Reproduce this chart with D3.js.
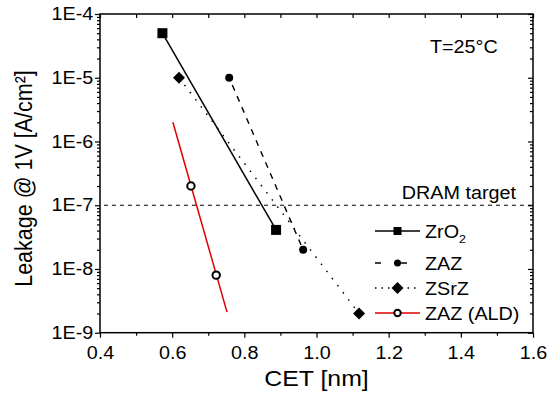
<!DOCTYPE html>
<html>
<head>
<meta charset="utf-8">
<script src="https://cdn.jsdelivr.net/npm/d3@7"></script>
<style>
  body { margin: 0; background: #fff; }
  text { font-family: "Liberation Sans", Arial, sans-serif; fill: #000; }
</style>
</head>
<body>
<div id="chart"></div>
<script>
// values
const zro2CET = [0.573, 0.888];
const zro2Leak = [5e-5, 4.1e-8];
const zazCET = [0.758, 0.963];
const zazLeak = [1e-5, 2e-8];
const zsrzCET = [0.619, 1.118];
const zsrzLeak = [1e-5, 2e-9];
const aldCET = [0.652, 0.722];
const aldLeak = [2e-7, 8e-9];
const aldFitCET = [0.602, 0.752];
const aldFitLeak = [2e-6, 2.1e-9];
const dramTarget = 1e-7;
const legendNames = ["ZrO", "ZAZ", "ZSrZ", "ZAZ (ALD)"];
const xTicks = [0.4, 0.6, 0.8, 1.0, 1.2, 1.4, 1.6];
const xMinorTicks = [0.5, 0.7, 0.9, 1.1, 1.3, 1.5];
const yTicks = [1e-9, 1e-8, 1e-7, 1e-6, 1e-5, 1e-4];
const yTickLabels = ["1E-9", "1E-8", "1E-7", "1E-6", "1E-5", "1E-4"];

function init() {
    const w = 548, h = 407;
    const left = 100, right = 533, top = 14, bottom = 332.7;
    const sx = 1.13; // glyphs in the picture are a bit wide

    const svg = d3.select("#chart").append("svg")
        .attr("width", w).attr("height", h);

    const x = d3.scaleLinear().domain([0.4, 1.6]).range([left, right]);
    const y = d3.scaleLog().domain([1e-9, 1e-4]).range([bottom, top]);

    // minor ticks for log axis: 2..9 per decade
    let yMinor = [];
    for (let e = -9; e < -4; e++) {
        for (let m = 2; m <= 9; m++) yMinor.push(m * Math.pow(10, e));
    }

    function stretchTicks(g) {
        g.selectAll("text").attr("transform", "scale(" + sx + ",1)");
    }

    // bottom axis
    svg.append("g")
        .attr("transform", "translate(0," + bottom + ")")
        .call(d3.axisBottom(x).tickValues(xTicks).tickSize(5).tickPadding(9)
            .tickFormat(d3.format(".1f")))
        .call(stretchTicks);
    svg.append("g")
        .attr("transform", "translate(0," + bottom + ")")
        .call(d3.axisBottom(x).tickValues(xMinorTicks).tickSize(3).tickFormat(""));
    // top axis, ticks inside
    svg.append("g")
        .attr("transform", "translate(0," + top + ")")
        .call(d3.axisBottom(x).tickValues(xTicks.concat(xMinorTicks)).tickSize(4).tickFormat(""));

    // left axis
    svg.append("g")
        .attr("transform", "translate(" + left + ",0)")
        .call(d3.axisLeft(y).tickValues(yTicks).tickSize(5).tickPadding(1)
            .tickFormat((d, i) => yTickLabels[i]))
        .call(stretchTicks);
    svg.append("g")
        .attr("transform", "translate(" + left + ",0)")
        .call(d3.axisLeft(y).tickValues(yMinor).tickSize(3).tickFormat(""));
    // right axis, ticks inside
    svg.append("g")
        .attr("transform", "translate(" + right + ",0)")
        .call(d3.axisLeft(y).tickValues(yTicks).tickSize(-5).tickFormat(""))
        .call(g => g.selectAll("line").attr("x2", -5));
    svg.append("g")
        .attr("transform", "translate(" + right + ",0)")
        .call(d3.axisLeft(y).tickValues(yMinor).tickSize(-3).tickFormat(""))
        .call(g => g.selectAll("line").attr("x2", -3));

    svg.selectAll(".domain").remove();
    svg.selectAll(".tick line").attr("stroke", "#000").attr("stroke-width", 1.2);
    svg.selectAll(".tick text").style("font-size", "17.5px").attr("fill", "#000");

    // frame
    svg.append("rect")
        .attr("x", left).attr("y", top)
        .attr("width", right - left).attr("height", bottom - top)
        .attr("fill", "none").attr("stroke", "#000").attr("stroke-width", 1.5);

    // DRAM target
    svg.append("line")
        .attr("x1", left).attr("x2", right)
        .attr("y1", y(dramTarget)).attr("y2", y(dramTarget))
        .attr("stroke", "#000").attr("stroke-width", 1)
        .attr("stroke-dasharray", "4,4").attr("stroke-dashoffset", 4);
    svg.append("text")
        .attr("transform", "translate(516," + (y(dramTarget) - 6) + ") scale(" + sx + ",1)")
        .attr("text-anchor", "end")
        .style("font-size", "17.5px")
        .text("DRAM target");

    svg.append("text")
        .attr("transform", "translate(430,53) scale(" + sx + ",1)")
        .style("font-size", "17.5px")
        .text("T=25°C");

    const line = d3.line().x(d => x(d[0])).y(d => y(d[1]));
    const zip = (a, b) => a.map((v, i) => [v, b[i]]);

    // lines
    svg.append("path").datum(zip(zro2CET, zro2Leak))
        .attr("d", line).attr("fill", "none")
        .attr("stroke", "#000").attr("stroke-width", 1.5);
    svg.append("path").datum(zip(zazCET, zazLeak))
        .attr("d", line).attr("fill", "none")
        .attr("stroke", "#000").attr("stroke-width", 1.4)
        .attr("stroke-dasharray", "6,6").attr("stroke-dashoffset", 4);
    svg.append("path").datum(zip(zsrzCET, zsrzLeak))
        .attr("d", line).attr("fill", "none")
        .attr("stroke", "#000").attr("stroke-width", 1.5)
        .attr("stroke-dasharray", "1.5,7.5");
    svg.append("path").datum(zip(aldFitCET, aldFitLeak))
        .attr("d", line).attr("fill", "none")
        .attr("stroke", "#e00000").attr("stroke-width", 1.5);

    // markers
    const diamond = "M0,-6L6,0L0,6L-6,0Z";

    svg.selectAll(".sq").data(zip(zro2CET, zro2Leak)).enter()
        .append("rect").attr("class", "sq")
        .attr("x", d => x(d[0]) - 5).attr("y", d => y(d[1]) - 5)
        .attr("width", 10).attr("height", 10).attr("fill", "#000");
    svg.selectAll(".dot").data(zip(zazCET, zazLeak)).enter()
        .append("circle").attr("class", "dot")
        .attr("cx", d => x(d[0])).attr("cy", d => y(d[1]))
        .attr("r", 4).attr("fill", "#000");
    svg.selectAll(".dia").data(zip(zsrzCET, zsrzLeak)).enter()
        .append("path").attr("class", "dia")
        .attr("transform", d => "translate(" + x(d[0]) + "," + y(d[1]) + ")")
        .attr("d", diamond).attr("fill", "#000");
    svg.selectAll(".open").data(zip(aldCET, aldLeak)).enter()
        .append("circle").attr("class", "open")
        .attr("cx", d => x(d[0])).attr("cy", d => y(d[1]))
        .attr("r", 3.7).attr("fill", "#fff")
        .attr("stroke", "#000").attr("stroke-width", 2);

    // legend
    const rowY = [231, 263, 288, 313];
    const lx1 = 375, lx2 = 420, mx = 397.5;
    const styles = [
        { color: "#000", dash: null },
        { color: "#000", dash: "6,16,10,20" },
        { color: "#000", dash: "1.5,5" },
        { color: "#e00000", dash: null }
    ];
    legendNames.forEach((name, i) => {
        const g = svg.append("g").attr("transform", "translate(0," + rowY[i] + ")");
        const ln = g.append("line").attr("x1", lx1).attr("x2", lx2)
            .attr("y1", 0).attr("y2", 0)
            .attr("stroke", styles[i].color).attr("stroke-width", 1.5);
        if (styles[i].dash) ln.attr("stroke-dasharray", styles[i].dash);
        if (i === 0) {
            g.append("rect").attr("x", mx - 4).attr("y", -4).attr("width", 8).attr("height", 8).attr("fill", "#000");
        } else if (i === 1) {
            g.append("circle").attr("cx", mx).attr("cy", 0).attr("r", 3.5).attr("fill", "#000");
        } else if (i === 2) {
            g.append("path").attr("transform", "translate(" + mx + ",0)").attr("d", diamond).attr("fill", "#000");
        } else {
            g.append("circle").attr("cx", mx).attr("cy", 0).attr("r", 3.2)
                .attr("fill", "#fff").attr("stroke", "#000").attr("stroke-width", 2);
        }
        const t = g.append("text")
            .attr("transform", "translate(425,6.5) scale(" + sx + ",1)")
            .style("font-size", "17.5px")
            .text(name);
        if (i === 0) {
            t.append("tspan").attr("dy", 5).style("font-size", "11px").text("2");
        }
    });

    // axis titles
    svg.append("text")
        .attr("transform", "translate(316.5,386) scale(" + sx + ",1)")
        .attr("text-anchor", "middle")
        .style("font-size", "22px")
        .text("CET [nm]");
    svg.append("text")
        .attr("transform", "translate(32,178.5) scale(" + sx + ",1) rotate(-90)")
        .attr("text-anchor", "middle")
        .style("font-size", "21.5px")
        .text("Leakage @ 1V [A/cm²]");
}

window.addEventListener("load", init);
</script>
</body>
</html>
